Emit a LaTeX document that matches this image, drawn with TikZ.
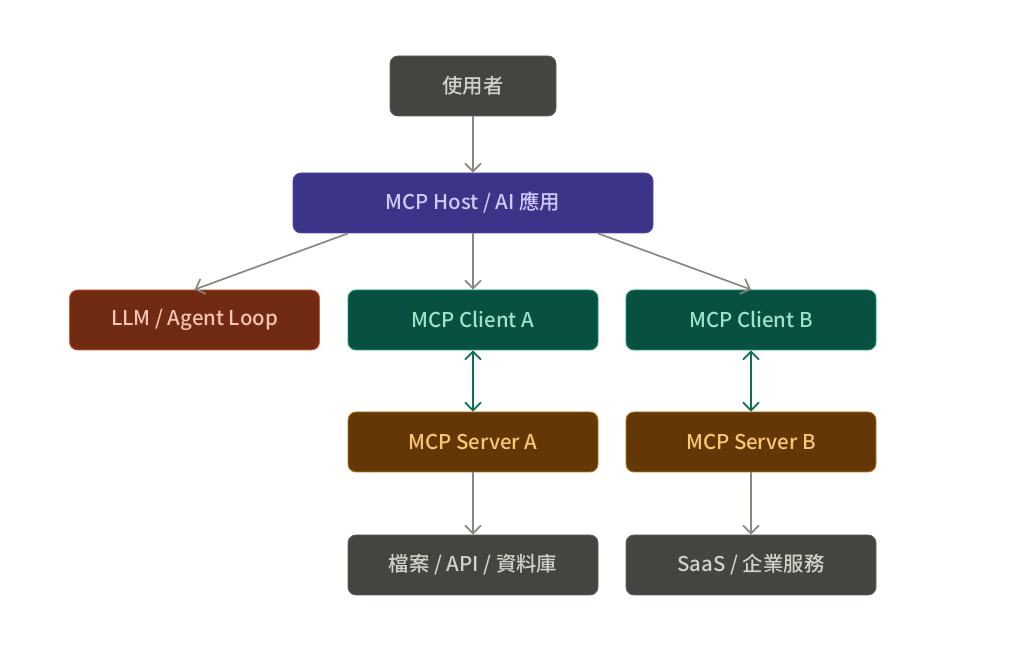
\documentclass[tikz,border=0pt]{standalone}
\usepackage{fontspec}
\setmainfont{Noto Sans CJK TC}[UprightFont={* Medium}]
\usetikzlibrary{arrows.meta,positioning}
\definecolor{grayfill}{HTML}{444441}
\definecolor{graydraw}{HTML}{5F5E5A}
\definecolor{graytext}{HTML}{D3D1C7}
\definecolor{purplefill}{HTML}{3C3489}
\definecolor{purpledraw}{HTML}{534AB7}
\definecolor{purpletext}{HTML}{CECBF6}
\definecolor{coralfill}{HTML}{712B13}
\definecolor{coraldraw}{HTML}{D85A30}
\definecolor{coraltext}{HTML}{F5C4B3}
\definecolor{tealfill}{HTML}{085041}
\definecolor{tealdraw}{HTML}{1D9E75}
\definecolor{tealtext}{HTML}{9FE1CB}
\definecolor{amberfill}{HTML}{633806}
\definecolor{amberdraw}{HTML}{BA7517}
\definecolor{ambertext}{HTML}{FAC775}
\definecolor{linkgray}{HTML}{888780}
\definecolor{linkteal}{HTML}{0F6E56}

\begin{document}
\begin{tikzpicture}[every node/.style={font=\fontsize{11.6}{13}\selectfont},
  box/.style={rectangle,rounded corners=0.16cm,line width=0.5pt,minimum height=1.2cm,minimum width=5cm},
  gbox/.style={box,draw=graydraw,fill=grayfill,text=graytext},
  pbox/.style={box,draw=purpledraw,fill=purplefill,text=purpletext},
  cbox/.style={box,draw=coraldraw,fill=coralfill,text=coraltext},
  tbox/.style={box,draw=tealdraw,fill=tealfill,text=tealtext},
  abox/.style={box,draw=amberdraw,fill=amberfill,text=ambertext},
  e/.style={-{Straight Barb[length=1.6mm,width=3.2mm]},line width=0.95pt,draw=linkgray},
  b/.style={{Straight Barb[length=1.6mm,width=3.2mm]}-{Straight Barb[length=1.6mm,width=3.2mm]},line width=0.95pt,draw=linkteal}]
  \useasboundingbox (0,0) rectangle (20.48,-13.08);
  \node[gbox,minimum width=3.32cm] (user) at (9.46,-1.72) {使用者};
  \node[pbox,minimum width=7.2cm,below of=user,node distance=2.34cm] (host) {MCP Host / AI 應用};
  \node[tbox,below of=host,node distance=2.34cm] (clienta) {MCP Client A};
  \node[cbox,left of=clienta,node distance=5.57cm] (llm) {LLM / Agent Loop};
  \node[tbox,right of=clienta,node distance=5.56cm] (clientb) {MCP Client B};
  \node[abox,below of=clienta,node distance=2.44cm] (servera) {MCP Server A};
  \node[abox,below of=clientb,node distance=2.44cm] (serverb) {MCP Server B};
  \node[gbox,below of=servera,node distance=2.46cm] (resa) {檔案 / API / 資料庫};
  \node[gbox,below of=serverb,node distance=2.46cm] (resb) {SaaS / 企業服務};
  \draw[e] (user) -- (host);
  \draw[e] ([xshift=-2.5cm]host.south) -- (llm.north);
  \draw[e] (host) -- (clienta);
  \draw[e] ([xshift=2.5cm]host.south) -- (clientb.north);
  \draw[b] (clienta) -- (servera);
  \draw[b] (clientb) -- (serverb);
  \draw[e] (servera) -- (resa);
  \draw[e] (serverb) -- (resb);
\end{tikzpicture}
\end{document}
